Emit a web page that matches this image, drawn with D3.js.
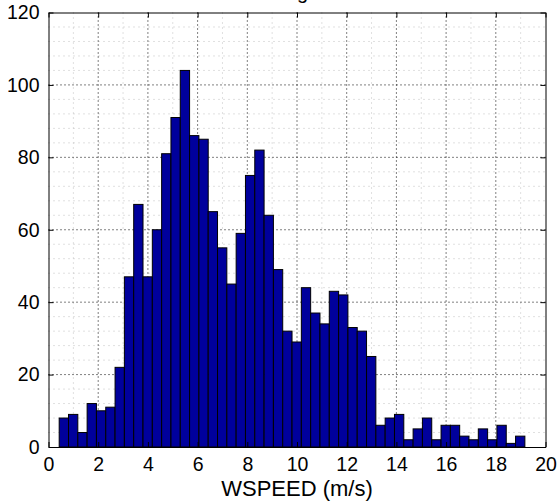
<!DOCTYPE html>
<html>
<head>
<meta charset="utf-8">
<script src="https://cdn.jsdelivr.net/npm/d3@7"></script>
<style>
  html, body { margin: 0; padding: 0; background: #fff; }
  svg { display: block; font-family: "Liberation Sans", Arial, Helvetica, sans-serif; }
</style>
</head>
<body>
<svg id="chart" width="560" height="504"></svg>
<script>
// ---- data ----
const titleText = "Histogram";
const xLabel = "WSPEED (m/s)";
const binStart = 0.43;   // left edge of first bin (m/s)
const binEnd = 19.17;    // right edge of last bin (m/s)
const counts = [8, 9, 4, 12, 10, 11, 22, 47, 67, 47,
                60, 81, 91, 104, 86, 85, 65, 55, 45, 59,
                75, 82, 64, 49, 32, 29, 44, 37, 34, 43,
                42, 33, 32, 25, 6, 8, 9, 2, 5, 8,
                2, 6, 6, 3, 2, 5, 2, 6, 1, 3];
const xTicks = [0, 2, 4, 6, 8, 10, 12, 14, 16, 18, 20];
const yTicks = [0, 20, 40, 60, 80, 100, 120];
const xMinor = d3.range(0, 21, 1);
const yMinor = d3.range(0, 121, 4);

// ---- layout ----
const pL = 48.5, pR = 545.5, pT = 12.5, pB = 447;
const svg = d3.select("#chart");
const x = d3.scaleLinear().domain([0, 20]).range([pL, pR]);
const y = d3.scaleLinear().domain([0, 120]).range([pB, pT]);

const bw = (binEnd - binStart) / counts.length;
const bins = counts.map((c, i) => ({x0: binStart + i * bw, x1: binStart + (i + 1) * bw, c}));

// minor grid
const gg = svg.append("g");
gg.selectAll(".mx").data(xMinor.filter(v => v % 2 !== 0)).join("line")
  .attr("x1", d => x(d)).attr("x2", d => x(d)).attr("y1", pT).attr("y2", pB)
  .attr("stroke", "#c0c0c0").attr("stroke-width", 1).attr("stroke-dasharray", "1,4");
gg.selectAll(".my").data(yMinor.filter(v => v % 20 !== 0)).join("line")
  .attr("y1", d => y(d)).attr("y2", d => y(d)).attr("x1", pL).attr("x2", pR)
  .attr("stroke", "#c0c0c0").attr("stroke-width", 1).attr("stroke-dasharray", "1,4");
// major grid
gg.selectAll(".Mx").data(xTicks.slice(1, -1)).join("line")
  .attr("x1", d => x(d)).attr("x2", d => x(d)).attr("y1", pT).attr("y2", pB)
  .attr("stroke", "#000").attr("stroke-width", 1).attr("stroke-dasharray", "1,3");
gg.selectAll(".My").data(yTicks.slice(1, -1)).join("line")
  .attr("y1", d => y(d)).attr("y2", d => y(d)).attr("x1", pL).attr("x2", pR)
  .attr("stroke", "#000").attr("stroke-width", 1).attr("stroke-dasharray", "1,3");

// bars
svg.append("g").selectAll("rect").data(bins).join("rect")
  .attr("x", d => x(d.x0)).attr("width", d => x(d.x1) - x(d.x0))
  .attr("y", d => y(d.c)).attr("height", d => y(0) - y(d.c))
  .attr("fill", "#00009c").attr("stroke", "#000").attr("stroke-width", 1);

// axes (bottom/left with labels, top/right ticks only), inward ticks
const tl = 5;
const fs = 19.5;
const axB = svg.append("g").attr("transform", `translate(0,${pB})`)
  .call(d3.axisBottom(x).tickValues(xTicks).tickSizeInner(-tl).tickSizeOuter(0).tickPadding(10));
const axL = svg.append("g").attr("transform", `translate(${pL},0)`)
  .call(d3.axisLeft(y).tickValues(yTicks).tickSizeInner(-tl).tickSizeOuter(0).tickPadding(9));
const axT = svg.append("g").attr("transform", `translate(0,${pT})`)
  .call(d3.axisTop(x).tickValues(xTicks).tickSizeInner(-tl).tickSizeOuter(0).tickFormat(""));
const axR = svg.append("g").attr("transform", `translate(${pR},0)`)
  .call(d3.axisRight(y).tickValues(yTicks).tickSizeInner(-tl).tickSizeOuter(0).tickFormat(""));
[axB, axL, axT, axR].forEach(a => {
  a.select(".domain").attr("stroke", "#000").attr("stroke-width", 1);
  a.selectAll(".tick line").attr("stroke", "#000");
  a.selectAll("text").attr("font-size", fs).attr("fill", "#000")
    .attr("font-family", "Liberation Sans, Arial, sans-serif");
});

// x label
svg.append("text").attr("x", (pL + pR) / 2).attr("y", 496)
  .attr("text-anchor", "middle").attr("font-size", 22).attr("fill", "#000")
  .text(xLabel);
// title (mostly cut off above the view, as in the reference)
svg.append("text").attr("x", (pL + pR) / 2).attr("y", -1)
  .attr("text-anchor", "middle").attr("font-size", 20).attr("fill", "#000")
  .text(titleText);
</script>
</body>
</html>
